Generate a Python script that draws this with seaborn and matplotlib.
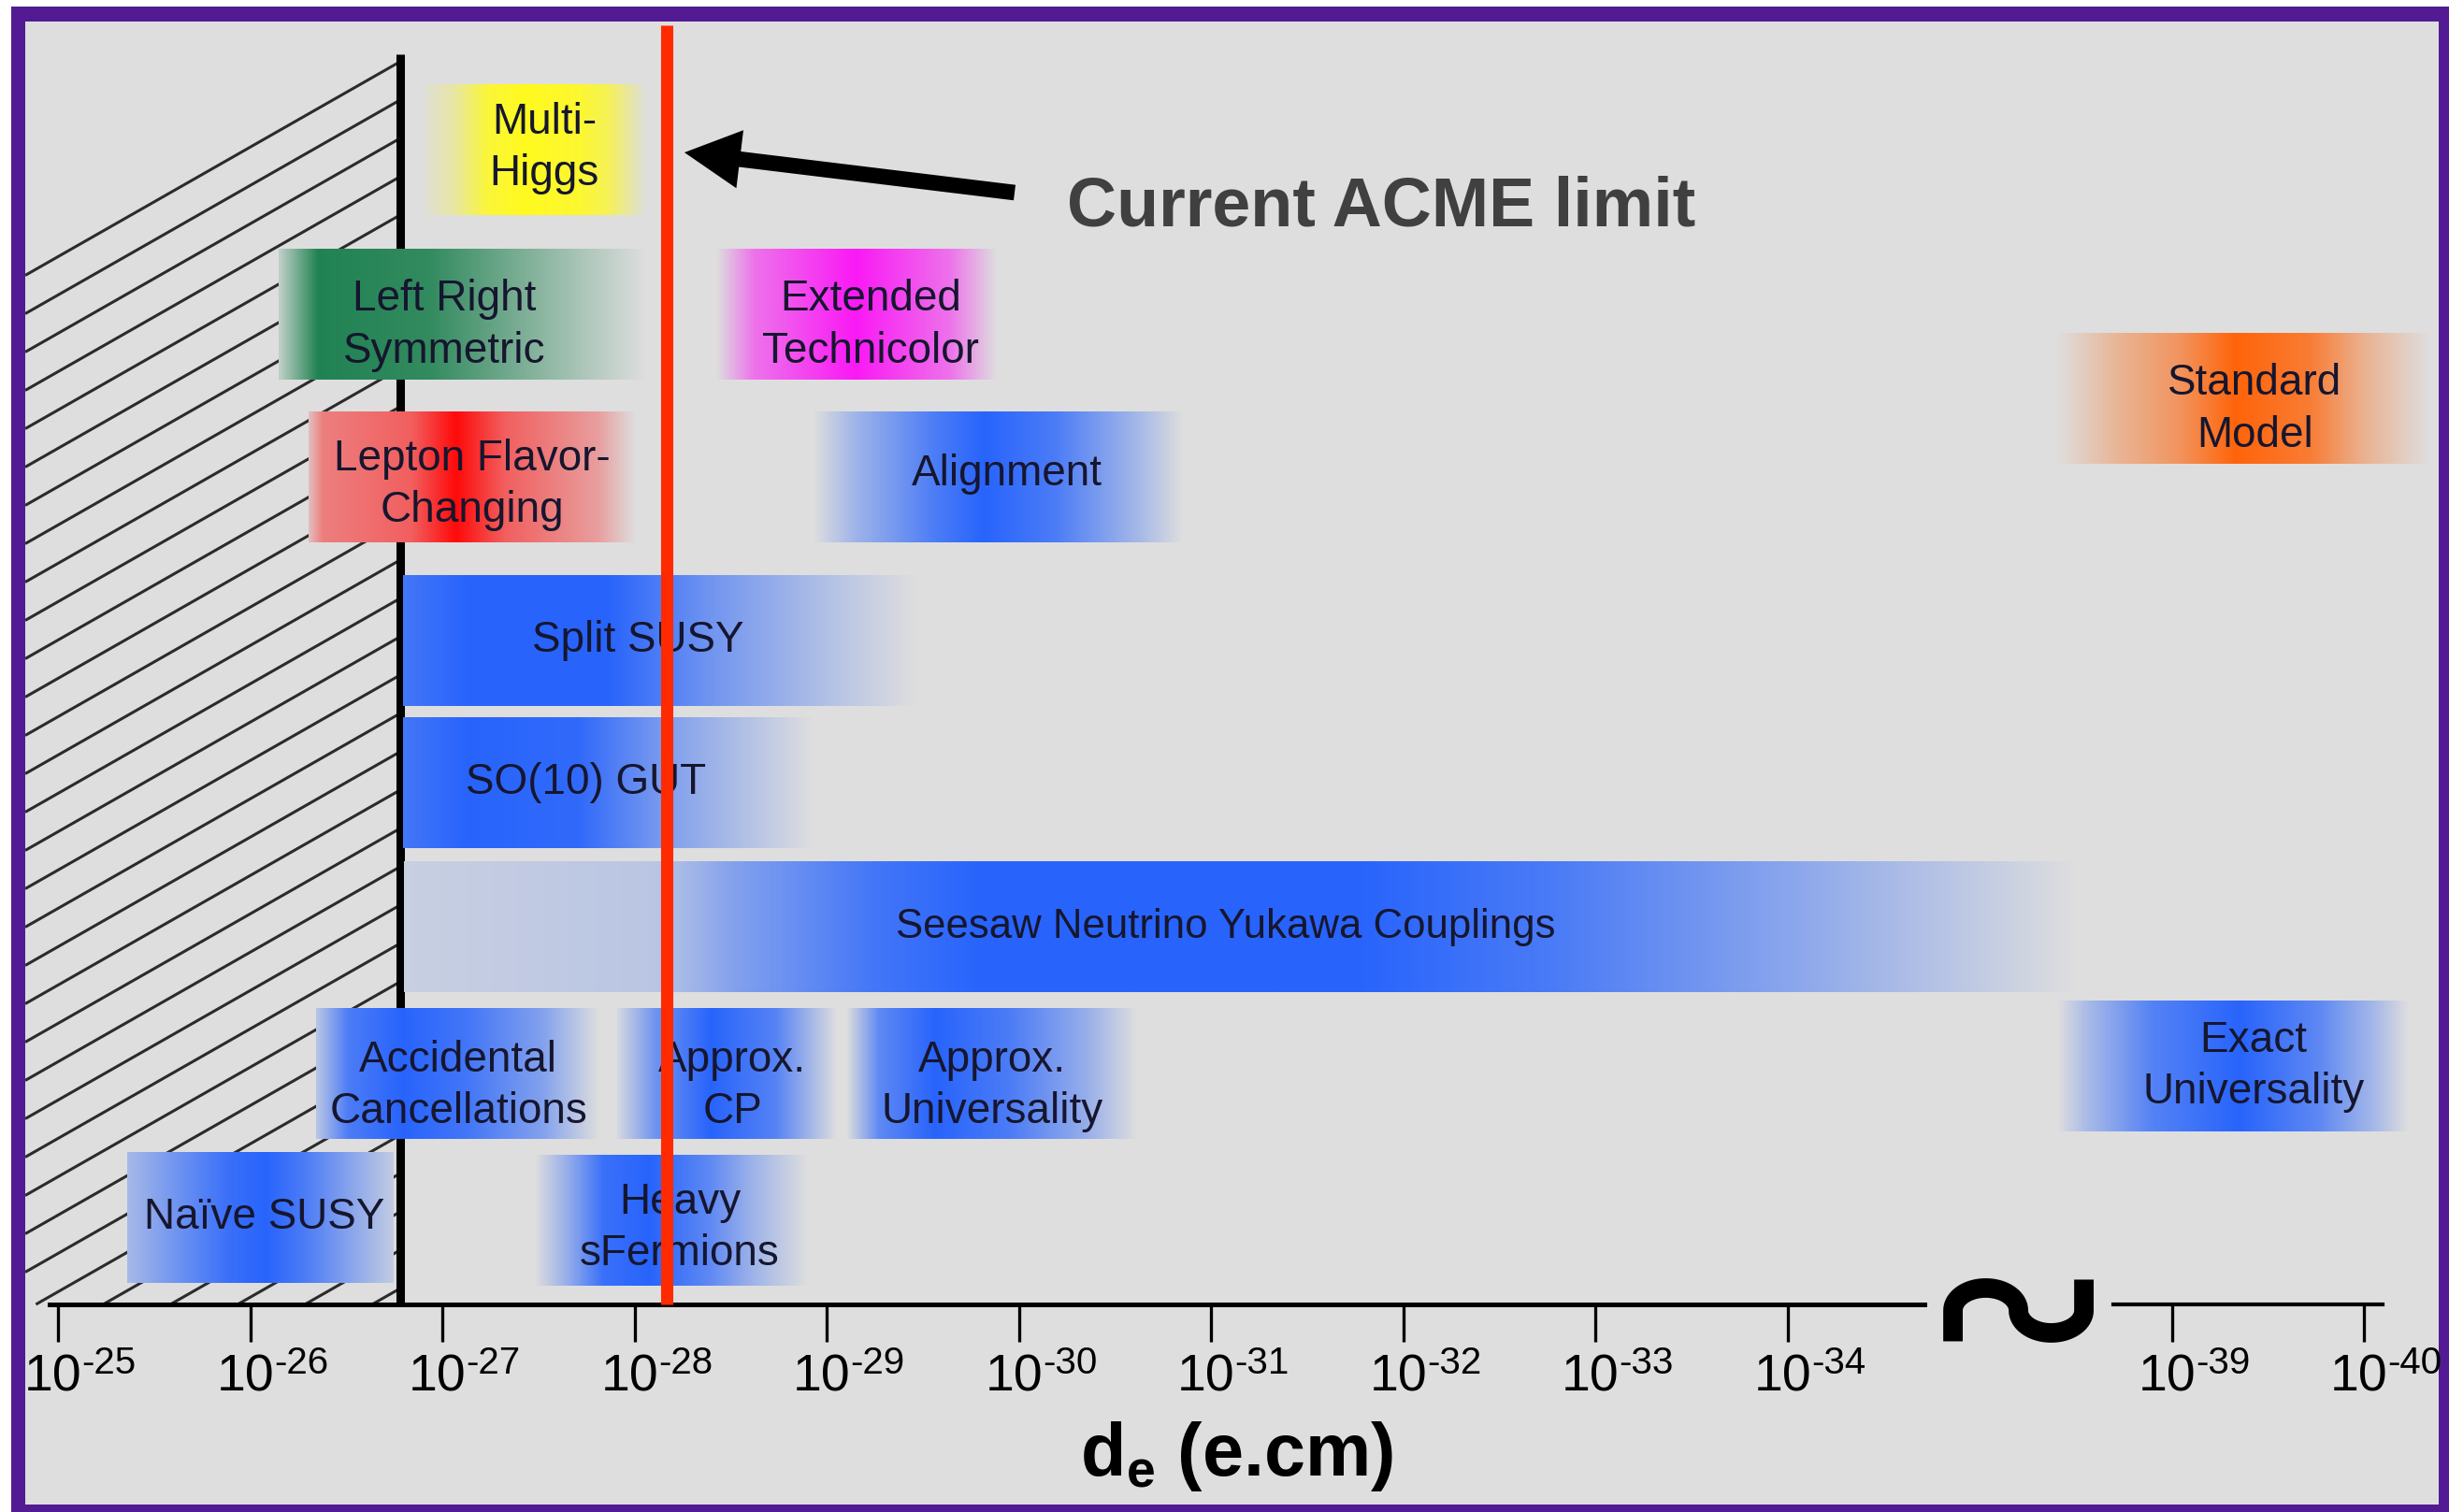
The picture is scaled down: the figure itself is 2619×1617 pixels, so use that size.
import numpy as np
import matplotlib
matplotlib.use("Agg")
import matplotlib.pyplot as plt
from matplotlib.patches import Rectangle
import seaborn as sns

# ---------------- data ----------------
# decade positions on the (broken) log axis: 0 -> 1e-25 ... 9 -> 1e-34, 11 -> 1e-39, 12 -> 1e-40
tick_exp_main = [-25, -26, -27, -28, -29, -30, -31, -32, -33, -34]
tick_pos_main = [0, 1, 2, 3, 4, 5, 6, 7, 8, 9]
tick_exp_far = [-39, -40]
tick_pos_far = [11, 12]

acme_limit = 3.17   # current ACME limit (red line)
old_limit = 1.78    # previous bound (black line / hatched exclusion)

bar_labels = ["Multi-\nHiggs", "Left Right\nSymmetric", "Extended\nTechnicolor",
              "Standard\nModel", "Lepton Flavor-\nChanging", "Alignment",
              "Split SUSY", "SO(10) GUT", "Seesaw Neutrino Yukawa Couplings",
              "Accidental\nCancellations", "Approx.\nCP", "Approx.\nUniversality",
              "Exact\nUniversality", "Naïve SUSY", "Heavy\nsFermions"]
bar_row = [1.032, 2.171, 2.171, 2.748, 3.290, 3.290, 4.419, 5.403, 6.394,
           7.406, 7.406, 7.406, 7.355, 8.403, 8.419]
bar_lo = [1.912, 1.148, 3.426, 10.404, 1.304, 3.932, 1.796, 1.796, 1.800,
          1.343, 2.910, 4.102, 10.404, 0.360, 2.480]
bar_hi = [3.056, 3.056, 4.881, 12.336, 3.007, 5.854, 4.467, 3.932, 10.501,
          2.813, 4.053, 5.611, 12.229, 1.742, 3.900]
label_x = [2.530, 2.010, 4.229, 11.431, 2.156, 4.939, 3.017, 2.745, 6.078,
           2.083, 3.509, 4.861, 11.426, 1.075, 3.236]
label_y = [1.023, 2.245, 2.245, 2.826, 3.345, 3.270, 4.419, 5.403, 6.394,
           7.494, 7.494, 7.494, 7.359, 8.403, 8.474]

# ---------------- style ----------------
YELLOW = (255, 250, 30)
GREEN = (32, 130, 82)
MAGENTA = (250, 25, 245)
ORANGE = (255, 100, 10)
RED = (255, 10, 10)
BLUE = (40, 100, 252)
bar_colors = [YELLOW, GREEN, MAGENTA, ORANGE, RED, BLUE, BLUE, BLUE, BLUE,
              BLUE, BLUE, BLUE, BLUE, BLUE, BLUE]
# horizontal colour-intensity profile of each band (fraction along band, intensity)
bar_profiles = [
    ([0, .128, .277, .447, .702, .830, 1], [.05, .3, .85, 1, .9, .7, 0]),
    ([0, .107, .413, .707, 1], [.15, 1, .9, .45, 0]),
    ([0, .137, .498, .833, 1], [.0, .55, 1, .55, 0]),
    ([0, .169, .327, .479, .680, .831, 1], [.0, .35, .6, 1, .8, .35, 0]),
    ([0, .043, .314, .451, .6, .886, 1], [.15, .45, .6, 1, .6, .3, 0]),
    ([0, .114, .329, .461, .658, .886, 1], [0, .35, .8, 1, .8, .3, 0]),
    ([0, .126, .399, .599, .854, 1], [.85, 1, 1, .6, .2, 0]),
    ([0, .157, .430, .658, 1], [.85, 1, .95, .5, 0]),
    ([0, .151, .197, .281, .345, .570, .693, .833, .926, 1],
     [.12, .2, .5, .85, 1, 1, .8, .45, .2, 0]),
    ([0, .113, .305, .536, .801, 1], [.2, .8, 1, .85, .5, 0]),
    ([0, .170, .426, .723, 1], [.05, .6, 1, .75, 0]),
    ([0, .113, .306, .565, .823, 1], [.0, .7, 1, .8, .4, 0]),
    ([0, .088, .267, .52, .747, .907, 1], [.0, .3, .75, 1, .7, .3, 0]),
    ([0, .15, .377, .52, .670, .927, 1], [.3, .55, .9, 1, .8, .3, .15]),
    ([0, .12, .25, .42, .64, .80, 1], [.0, .4, .9, 1, .7, .35, 0]),
]
label_sizes = [33] * len(bar_labels)
label_sizes[8] = 31.5

sns.set_theme(style="white")
plt.rcParams['font.family'] = ['Liberation Sans', 'DejaVu Sans']
plt.rcParams['mathtext.fontset'] = 'custom'
plt.rcParams['mathtext.rm'] = 'Liberation Sans'
plt.rcParams['mathtext.it'] = 'Liberation Sans:italic'
plt.rcParams['mathtext.bf'] = 'Liberation Sans:bold'

W, H = 2619, 1617
PX = 0.72  # points per pixel at dpi 100
PURPLE = '#521b93'
BGc = '#dedede'
fig = plt.figure(figsize=(W / 100, H / 100), dpi=100, facecolor=PURPLE)
fig.add_artist(Rectangle((0, 1 - 7 / H), 1, 7 / H, transform=fig.transFigure,
                         facecolor='white', edgecolor='none'))
fig.add_artist(Rectangle((0, 0), 12 / W, 1, transform=fig.transFigure,
                         facecolor='white', edgecolor='none'))

# inner panel (pixels 27..2608 x 23..1609)
rect = [27 / W, (H - 1609) / H, (2608 - 27) / W, (1609 - 23) / H]
ax = fig.add_axes(rect)
ax.set_facecolor(BGc)
XLIM = (-0.1703, 12.389)
YLIM = (10.381, 0.1484)
axis_y = 9.0
px_per_dec = (2608 - 27) / (XLIM[1] - XLIM[0])
px_per_row = (1609 - 23) / (YLIM[0] - YLIM[1])

# hatched excluded region
hatch_slope = 0.57 * px_per_dec / px_per_row
hatch_gap = 41 / px_per_row
y_first = 66 / px_per_row
for k in range(60):
    yb = y_first + k * hatch_gap
    if yb >= axis_y:
        break
    pl = XLIM[0]
    yl = yb + hatch_slope * (old_limit - pl)
    if yl > axis_y:
        pl = old_limit - (axis_y - yb) / hatch_slope
        yl = axis_y
    ax.plot([old_limit, pl], [yb, yl], color='#2b2b2b', lw=2.2, zorder=1,
            solid_capstyle='butt')

# gradient bands
bgv = np.array([222, 222, 222]) / 255
band_h = 140 / px_per_row
xs = np.linspace(0, 1, 600)
for lo, hi, row, col, (fr, al) in zip(bar_lo, bar_hi, bar_row, bar_colors, bar_profiles):
    a = np.interp(xs, fr, al)[:, None]
    rgb = bgv * (1 - a) + (np.array(col) / 255) * a
    ax.imshow(rgb[None, :, :], extent=[lo, hi, row + band_h / 2, row - band_h / 2],
              aspect='auto', interpolation='bilinear', zorder=2)

for txt, x, y, fs in zip(bar_labels, label_x, label_y, label_sizes):
    ax.text(x, y, txt, ha='center', va='center', multialignment='center',
            fontsize=fs, color='#16162e', linespacing=1.33, zorder=4)

# limit lines
ax.vlines(old_limit, 58 / px_per_row, axis_y, color='black', lw=6.5, zorder=1.5)
ax.vlines(acme_limit, 27 / px_per_row, axis_y, color='#ff2a00', lw=9.4, zorder=5)

# annotation
ax.annotate('', xy=(3.260, 1.052), xytext=(4.978, 1.329),
            arrowprops=dict(arrowstyle='simple,head_length=43,head_width=45,tail_width=12',
                            mutation_scale=1, fc='black', ec='black', lw=0,
                            shrinkA=0, shrinkB=0), zorder=6)
ax.text(5.251, 1.555, 'Current ACME limit', fontsize=53, fontweight='bold',
        color='#404040', ha='left', va='baseline', zorder=6)

# axis break symbol
rx, ry, ext = 35 / px_per_dec, 24 / px_per_row, 33 / px_per_row
brk_x, brk_y = 10.202, 9.042
t1 = np.linspace(np.pi, 0, 60)
t2 = np.linspace(np.pi, 2 * np.pi, 60)
cx = np.concatenate([[-2 * rx], -rx + rx * np.cos(t1), rx + rx * np.cos(t2), [2 * rx]])
cy = np.concatenate([[ext], -ry * np.sin(t1), -ry * np.sin(t2), [-ext]])
ax.plot(brk_x + cx, brk_y + cy, color='black', lw=15, solid_capstyle='butt',
        zorder=3, clip_on=False)

ax.set_xlim(*XLIM)
ax.set_ylim(*YLIM)


def setup_axis(a, positions, exps, bounds, lw):
    for s in ['top', 'left', 'right']:
        a.spines[s].set_visible(False)
    a.spines['bottom'].set_visible(True)
    a.spines['bottom'].set_position(('data', axis_y))
    a.spines['bottom'].set_bounds(*bounds)
    a.spines['bottom'].set_linewidth(lw)
    a.spines['bottom'].set_color('black')
    a.xaxis.set_ticks_position('bottom')
    a.set_xticks(positions, labels=[''] * len(positions))
    a.set_yticks([])
    a.tick_params(axis='x', direction='out', length=40 * PX, width=3.3 * PX,
                  colors='black')
    # "10" with a raised exponent, placed like the original tick labels
    for pos, e in zip(positions, exps):
        ten = a.annotate('10', xy=(pos, axis_y), xycoords='data',
                         xytext=(-36 * PX, -93 * PX), textcoords='offset points',
                         ha='left', va='baseline', fontsize=40, color='black',
                         annotation_clip=False)
        a.annotate(f'-{abs(e)}', xy=(1, 0), xycoords=ten,
                   xytext=(0, 31 * PX), textcoords='offset points',
                   ha='left', va='baseline', fontsize=29, color='black',
                   annotation_clip=False)


setup_axis(ax, tick_pos_main, tick_exp_main, (-0.044, 9.713), 3.6)
ax.set_xlabel(r'$\mathregular{d_e}$ (e.cm)', fontsize=57, fontweight='bold',
              color='black', labelpad=0)
ax.xaxis.set_label_coords(0.502, 0.0195)
ax.xaxis.label.set_verticalalignment('baseline')

ax2 = ax.twiny()
ax2.set_xlim(*XLIM)
ax2.patch.set_visible(False)
setup_axis(ax2, tick_pos_far, tick_exp_far, (10.696, 12.097), 3.0)
ax2.set_ylim(*YLIM)

fig.savefig('out.png', dpi=100, facecolor=fig.get_facecolor())
